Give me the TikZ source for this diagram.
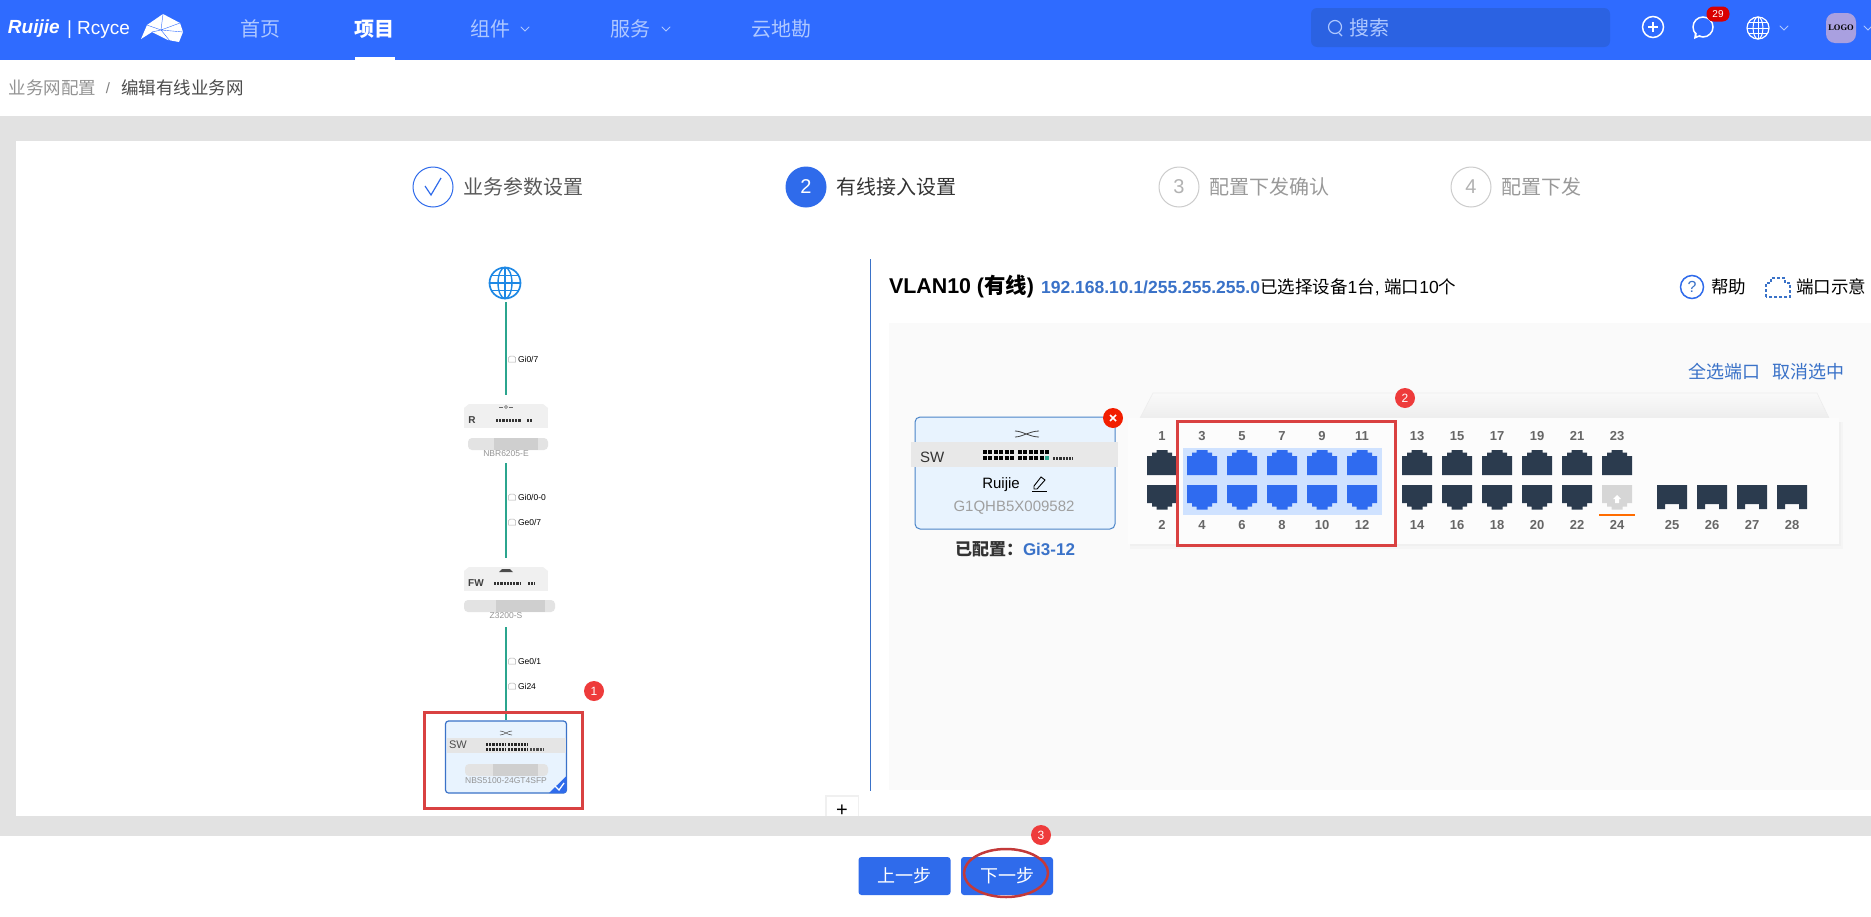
\documentclass[tikz,border=0pt]{standalone}
\usepackage{fontspec}
\setmainfont{Liberation Sans}
\newfontfamily\cjk{Noto Sans CJK SC}
\newfontfamily\logofont{Liberation Serif}
\usetikzlibrary{positioning,arrows}
\definecolor{navblue}{HTML}{2F6BFF}
\definecolor{navdark}{HTML}{2B62E2}
\definecolor{navtext}{HTML}{AFC8FF}
\definecolor{stepblue}{HTML}{2F6BEB}
\definecolor{linkblue}{HTML}{3A72C8}
\definecolor{globeblue}{HTML}{1E88E5}
\definecolor{bandgray}{HTML}{E2E2E2}
\definecolor{mark}{HTML}{EE3B3B}
\definecolor{markbox}{HTML}{D94141}
\definecolor{teal}{HTML}{2BA58E}
\definecolor{cardblue}{HTML}{E8F3FE}
\definecolor{cardline}{HTML}{4A84C8}
\definecolor{portdark}{HTML}{2B3B4E}
\definecolor{portsel}{HTML}{2F6BF0}
\definecolor{portbg}{HTML}{CFE2FF}
\definecolor{avatarbg}{HTML}{A9A0E0}
\newcommand\fs[1]{\fontsize{#1}{#1}\selectfont}
\tikzset{
  txt/.style={inner sep=0pt,outer sep=0pt},
  nav/.style={txt,font=\cjk\fs{20},text=navtext},
  stepdone/.style={circle,draw=stepblue,line width=1pt,minimum size=40pt,inner sep=0pt},
  stepoff/.style={circle,draw=gray!40,line width=1pt,minimum size=40pt,inner sep=0pt,text=gray!60,font=\fs{20}},
  steptxt/.style={txt,anchor=west,font=\cjk\fs{20}},
  link/.style={teal,line width=1.6pt},
  portname/.style={txt,anchor=west,font=\fs{8.5}},
  model/.style={txt,font=\fs{8.5},text=gray!85},
  devbox/.style={fill=black!6,inner sep=0pt,outer sep=0pt},
  num/.style={txt,font=\bfseries\fs{13},text=black!60},
  badge/.style={circle,fill=mark,text=white,minimum size=20pt,inner sep=0pt,font=\fs{12}},
  redbox/.style={draw=markbox,line width=3pt},
  btn/.style={fill=stepblue,rounded corners=3pt,minimum width=92pt,minimum height=38pt,inner sep=0pt,text=white,font=\cjk\fs{18}},
  chev/.style={line width=.9pt,line cap=round}
}
\newcommand\chevron[3]{\draw[chev,#3] (#1-4,#2-2) -- (#1,#2+2) -- (#1+4,#2-2);}
\newcommand\globeicon[4]{
\draw[#4,line width=#3*0.11pt] (#1,#2) circle (#3);
\draw[#4,line width=#3*0.09pt] (#1,#2) ellipse (#3*0.45 and #3);
\draw[#4,line width=#3*0.09pt] (#1,#2-#3) -- (#1,#2+#3) (#1-#3,#2) -- (#1+#3,#2);
\draw[#4,line width=#3*0.09pt] (#1-#3*0.87,#2-#3*0.5) -- (#1+#3*0.87,#2-#3*0.5) (#1-#3*0.87,#2+#3*0.5) -- (#1+#3*0.87,#2+#3*0.5);
}
\newcommand\linkicon[1]{\draw[gray!60,line width=.5pt] (512-3.5,#1+3) -- (512-3.5,#1-1.5) -- (512-1.5,#1-3) -- (512+1.5,#1-3) -- (512+3.5,#1-1.5) -- (512+3.5,#1+3) -- cycle;}
\newcommand\devtop[1]{\fill[black!6] (464,#1+4) -- (469,#1) -- (543,#1) -- (548,#1+4) -- cycle;}
% blurred name bar
\newcommand\blurbar[3]{\fill[gray!22,rounded corners=4pt] (#1,#3-6) rectangle (#2,#3+6);
\fill[gray!38] (#1/2+#2/2-14,#3-6) rectangle (#2-10,#3+6);}
\newcommand\dotrow[4]{\draw[#4,line width=3pt,dash pattern=on 2.2pt off 1pt] (#1,#3) -- (#2,#3);}
\newcommand\carddots[4]{\draw[#4,line width=4.5pt,dash pattern=on 4pt off 1.4pt] (#1,#3) -- (#2,#3);}
\newcommand\portup[2]{\fill[#2,shift={(#1,450)}] (-5.5,0) -- (5.5,0) -- (5.5,2.5) -- (10,2.5) -- (10,6) -- (15,6) -- (15,25) -- (-15,25) -- (-15,6) -- (-10,6) -- (-10,2.5) -- (-5.5,2.5) -- cycle;}
\newcommand\portdown[2]{\fill[#2,shift={(#1,485)}] (-15,0) -- (15,0) -- (15,18) -- (10,18) -- (10,21.7) -- (5.5,21.7) -- (5.5,24.5) -- (-5.5,24.5) -- (-5.5,21.7) -- (-10,21.7) -- (-10,18) -- (-15,18) -- cycle;}
\begin{document}
\begin{tikzpicture}[x=1pt,y=-1pt]
\useasboundingbox (0,0) rectangle (1871,916);
\fill[white] (0,0) rectangle (1871,916);
\fill[bandgray] (0,116) rectangle (1871,836);
\fill[white] (16,141) rectangle (1871,816);
\fill[white] (0,836) rectangle (1871,916);
\fill[black!6] (825,795) rectangle (859,816);
\node[fill=white,minimum width=31pt,minimum height=20pt,inner sep=0pt] (zoombox) at (842,807) {};
\node[txt,font=\fs{20}] (zoomplus) at (842,811) {+};
\fill[bandgray] (800,816) rectangle (900,836);

% top bar
\fill[navblue] (0,0) rectangle (1871,60);
\node[txt,anchor=west,text=white,font=\bfseries\itshape\fs{19}] (brand) at (8,29) {Ruijie};
\node[txt,anchor=west,text=white,font=\fs{19}] (brandb) at (67,30) {| Rcyce};
\fill[white] (141,39) -- (147,25) -- (163,14) -- (180,23) -- (183,32) -- (179,42) -- (168,40) -- (152,32) -- cycle;
\draw[navblue,line width=.4pt] (163,14) -- (161,30) -- (180,23) (147,25) -- (161,30) -- (170,41) (161,30) -- (152,32) (161,30) -- (183,32);
\node[nav] (home) at (260,29) {首页};
\node[nav,text=white,font=\cjk\bfseries\fs{20}] (project) at (374,29) {项目};
\fill[white] (355,57) rectangle (395,60);
\node[nav] (parts) at (490,29) {组件};
\chevron{525}{29}{navtext}
\node[nav] (service) at (630,29) {服务};
\chevron{666}{29}{navtext}
\node[nav] (survey) at (781,29) {云地勘};
\fill[navdark,rounded corners=6pt] (1311,8) rectangle (1610,47);
\draw[navtext,line width=1.2pt] (1335,27) circle (6.5);
\draw[navtext,line width=1.2pt] (1339,33) -- (1342,36);
\node[nav,anchor=west] (search) at (1349,28) {搜索};
\node[circle,draw=white,line width=1.5pt,minimum size=21pt,inner sep=0pt] (addbtn) at (1653,27) {};
\draw[white,line width=1.5pt] (1648,27) -- (1658,27) (1653,22) -- (1653,32);
\draw[white,line width=1.5pt] (1703,27) circle (10);
\fill[white] (1695,32) -- (1694,39) -- (1701,36) -- cycle;
\fill[navblue] (1697,32) -- (1696.5,36) -- (1701,34.5) -- cycle;
\node[fill=red!85!black,rounded corners=7pt,minimum width=23pt,minimum height=15pt,inner sep=0pt,text=white,font=\fs{10}] (msgcount) at (1718,14) {29};
\globeicon{1758}{28}{11}{white}
\chevron{1784}{28}{navtext}
\node[fill=avatarbg,rounded corners=9pt,minimum width=30pt,minimum height=30pt,inner sep=0pt,font=\bfseries\logofont\fs{8.5}] (avatar) at (1841,28) {LOGO};
\chevron{1868}{28}{navtext}

% breadcrumb
\node[txt,anchor=west,font=\cjk\fs{17.5},text=gray!85] (crumb) at (9,88) {业务网配置};
\node[txt,font=\fs{15},text=gray] (crumbsep) at (108,88) {/};
\node[txt,anchor=west,font=\cjk\fs{17.5},text=black!70] (crumbb) at (121,88) {编辑有线业务网};

% steps
\node[stepdone] (stepa) at (433,187) {};
\draw[stepblue,line width=1.2pt] (425,186) -- (431,195) -- (441,178);
\node[steptxt,text=black!65,right=10pt of stepa] (stepat) {业务参数设置};
\node[stepdone,fill=stepblue,text=white,font=\fs{20}] (stepb) at (806,187) {2};
\node[steptxt,text=black!80,right=10pt of stepb] (stepbt) {有线接入设置};
\node[stepoff] (stepc) at (1179,187) {3};
\node[steptxt,text=gray!80,right=10pt of stepc] (stepct) {配置下发确认};
\node[stepoff] (stepd) at (1471,187) {4};
\node[steptxt,text=gray!80,right=10pt of stepd] (stepdt) {配置下发};

% topology
\node[circle,minimum size=32pt,inner sep=0pt] (net) at (506,283) {};
\globeicon{505}{283}{15.5}{globeblue}
\devtop{404}
\node[devbox,minimum width=84pt,minimum height=20pt] (rbox) at (506,418) {};
\node[txt,font=\bfseries\fs{10},text=black!75] (rtag) at (472,420) {R};
\dotrow{496}{521}{420}{black!80}
\dotrow{527}{533}{420}{black!80}
\draw[black!60,line width=.6pt] (499,407) -- (503,407) (509,407) -- (513,407);
\draw[black!60,line width=.6pt] (506,407) circle (1.5);
\blurbar{468}{548}{444}
\node[model] (rname) at (506,454) {NBR6205-E};
\devtop{567}
\node[devbox,minimum width=84pt,minimum height=20pt] (fwbox) at (506,581) {};
\node[txt,font=\bfseries\fs{10},text=black!75] (fwtag) at (476,583) {FW};
\dotrow{494}{521}{583}{black!80}
\dotrow{528}{535}{583}{black!80}
\fill[black!70] (499,572) -- (502,569) -- (510,569) -- (513,572) -- cycle;
\blurbar{464}{555}{606}
\node[model] (fwname) at (506,616) {Z3200-S};
\node[fill=cardblue,draw=linkblue,line width=1.2pt,rounded corners=3pt,minimum width=121pt,minimum height=72pt,inner sep=0pt] (swcard) at (506,757) {};
\fill[stepblue] (566.5,776) -- (566.5,791) -- (564.5,793) -- (549,793) -- cycle;
\draw[white,line width=1.3pt] (555,786) -- (559,790) -- (564,783);
\fill[black!10] (447,738) rectangle (566,753);
\node[txt,font=\fs{11},text=black!70] (swtag) at (458,745) {SW};
\dotrow{486}{506}{744}{black!85}
\dotrow{508}{528}{744}{black!85}
\dotrow{486}{506}{749}{black!85}
\dotrow{508}{528}{749}{black!85}
\dotrow{530}{544}{749}{black!70}
\draw[black!65,line width=.6pt] (500,731) .. controls (505,731) and (507,735) .. (512,735) (500,735) .. controls (505,735) and (507,731) .. (512,731);
\blurbar{465}{548}{770}
\node[model] (swname) at (506,781) {NBS5100-24GT4SFP};
\draw[link,shorten <=3pt,shorten >=13pt] (net.south) -- (rbox.north);
\draw[link,shorten <=6pt,shorten >=13pt] (rname.south) -- (fwbox.north);
\draw[link,shorten <=8pt] (fwname.south) -- (swcard.north);
\linkicon{359}
\node[portname] (pa) at (518,359) {Gi0/7};
\linkicon{497}
\node[portname] (pb) at (518,497) {Gi0/0-0};
\linkicon{522}
\node[portname] (pc) at (518,522) {Ge0/7};
\linkicon{661}
\node[portname] (pd) at (518,661) {Ge0/1};
\linkicon{686}
\node[portname] (pe) at (518,686) {Gi24};
\draw[redbox] (424,712) rectangle (582,808);
\node[badge] (marka) at (594,691) {1};

\draw[linkblue,line width=1pt] (870,259) -- (870,791);

% right pane
\node[txt,anchor=west,font=\bfseries\fs{21.4}] (title) at (889,287) {VLAN10 ({\cjk\bfseries 有线})};
\node[txt,anchor=base west,font=\bfseries\fs{17.5},text=linkblue,base right=7pt of title] (addr) {192.168.10.1/255.255.255.0};
\node[txt,anchor=base west,font=\fs{17.5},base right=0pt of addr] (selinfo) {{\cjk 已选择设备}1{\cjk 台}, {\cjk 端口}10{\cjk 个}};
\node[circle,draw=stepblue,line width=1.5pt,minimum size=23pt,inner sep=0pt,text=linkblue,font=\fs{16}] (help) at (1692,287) {?};
\node[txt,anchor=west,font=\cjk\fs{17.5},right=7pt of help] (helpt) {帮助};
\draw[linkblue,line width=1.5pt,densely dashed] (1766,297) -- (1766,283) -- (1771,283) -- (1771,278) -- (1785,278) -- (1785,283) -- (1790,283) -- (1790,297) -- cycle;
\node[txt,anchor=west,font=\cjk\fs{17.5}] (legend) at (1796,287) {端口示意};
\fill[black!2] (889,323) rectangle (1871,790);
\node[txt,anchor=west,font=\cjk\fs{18},text=linkblue] (selall) at (1688,372) {全选端口};
\node[txt,anchor=west,font=\cjk\fs{18},text=linkblue] (selnone) at (1772,372) {取消选中};

% device card
\node[fill=cardblue,draw=cardline,line width=1pt,rounded corners=5pt,minimum width=200pt,minimum height=112pt,inner sep=0pt] (card) at (1015,473) {};
\fill[black!9] (911,442) rectangle (1118,467);
\node[txt,anchor=west,font=\fs{15},text=black!80] (cardtag) at (920,457) {SW};
\carddots{983}{1015}{452}{black}
\carddots{1018}{1050}{452}{black}
\carddots{983}{1015}{458}{black}
\carddots{1018}{1044}{458}{black}
\fill[teal] (1045,456) rectangle (1049,460);
\dotrow{1053}{1073}{458}{black!80}
\draw[black!75,line width=.8pt] (1015,431) .. controls (1022,431) and (1030,437) .. (1039,437) (1015,437) .. controls (1022,437) and (1030,431) .. (1039,431);
\node[circle,fill=red!75!orange!95!black,minimum size=20pt,inner sep=0pt,text=white] (cardx) at (1113,418) {};
\draw[white,line width=1.6pt] (1110,415) -- (1116,421) (1116,415) -- (1110,421);
\node[txt,font=\fs{15}] (cardname) at (1001,485) {Ruijie};
\draw[black,line width=.9pt] (1034,489) -- (1034,486) -- (1041,477) -- (1045,480) -- (1037,489) -- cycle;
\draw[black,line width=1pt] (1032,491) -- (1047,491);
\node[txt,font=\fs{15},text=gray!75] (cardsn) at (1014,508) {G1QHB5X009582};
\node[txt,anchor=east,font=\cjk\bfseries\fs{17},text=black!80] (cfg) at (1023,549) {已配置：};
\node[txt,anchor=west,font=\bfseries\fs{17},text=linkblue] (cfgports) at (1023,549) {Gi3-12};

% switch
\shade[top color=black!2,bottom color=black!7] (1140,418) -- (1153,393) -- (1817,393) -- (1829,418) -- cycle;
\draw[black!7,line width=.6pt] (1140,418) -- (1153,393) -- (1817,393) -- (1829,418);
\fill[black!4] (1130,422) rectangle (1843,549);
\fill[black!6] (1130,422) rectangle (1841,546);
\node[fill=black!1,minimum width=711pt,minimum height=126pt,inner sep=0pt] (panel) at (1483.5,481) {};
\fill[portbg] (1183,448) rectangle (1382,515);
\foreach \x/\a/\b in {1162/1/2,1417/13/14,1457/15/16,1497/17/18,1537/19/20,1577/21/22}{
\portup{\x}{portdark}
\portdown{\x}{portdark}
\node[num] (port\a) at (\x,436) {\a};
\node[num] (port\b) at (\x,525) {\b};
}
\foreach \x/\a/\b in {1202/3/4,1242/5/6,1282/7/8,1322/9/10,1362/11/12}{
\portup{\x}{portsel}
\portdown{\x}{portsel}
\node[num] (port\a) at (\x,436) {\a};
\node[num] (port\b) at (\x,525) {\b};
}
\portup{1617}{portdark}
\node[num] (port23) at (1617,436) {23};
\portdown{1617}{black!16}
\fill[white] (1617,495) -- (1621,499) -- (1619,499) -- (1619,503) -- (1615,503) -- (1615,499) -- (1613,499) -- cycle;
\draw[orange!85!red,line width=1.8pt] (1599,515) -- (1635,515);
\node[num] (port24) at (1617,525) {24};
\foreach \x/\a in {1672/25,1712/26,1752/27,1792/28}{
\fill[portdark,shift={(\x,485)}] (-15,0) -- (15,0) -- (15,24) -- (7,24) -- (7,19) -- (-7,19) -- (-7,24) -- (-15,24) -- cycle;
\node[num] (port\a) at (\x,525) {\a};
}
\draw[redbox] (1177,421) rectangle (1395,545);
\node[badge] (markb) at (1405,398) {2};

% buttons
\node[btn] (prevbtn) at (904.5,876) {上一步};
\node[btn] (nextbtn) at (1007,876) {下一步};
\draw[markbox!90!black,line width=2.5pt] (1006,873) ellipse (42 and 24);
\node[badge] (markc) at (1041,835) {3};
\end{tikzpicture}
\end{document}
